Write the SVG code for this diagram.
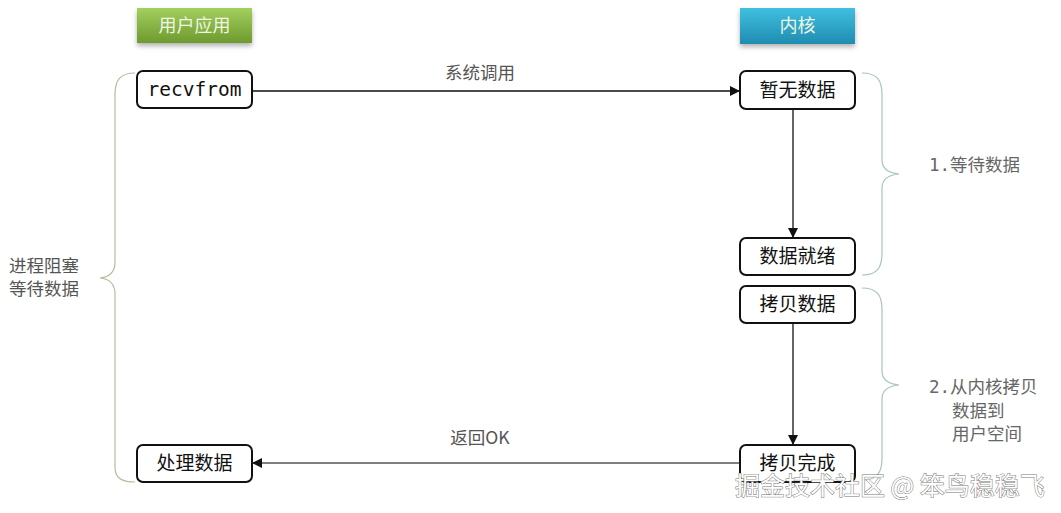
<svg xmlns="http://www.w3.org/2000/svg" width="1061" height="513" viewBox="0 0 1061 513">
<style>
.node{fill:#fff;stroke:#111;stroke-width:2}
.nt{font-family:"Noto Sans CJK SC","Noto Sans",sans-serif;font-size:19px;fill:#111;text-anchor:middle}
.mono{font-family:"DejaVu Sans Mono","Liberation Mono",monospace;font-size:19.5px;fill:#111;text-anchor:middle}
.lbl{font-family:"Noto Sans CJK SC","Noto Sans",sans-serif;font-size:17.5px;fill:#555}
.lblm{font-family:"DejaVu Sans Mono","Noto Sans CJK SC",monospace;font-size:17.5px;fill:#666}
.hdr{font-family:"Noto Sans CJK SC","Noto Sans",sans-serif;font-size:18px;fill:#eef5e4;text-anchor:middle}
.conn{stroke:#111;stroke-width:1.3;fill:none}
.brace{fill:none;stroke-width:1.2}
</style>
<defs>
<linearGradient id="g" x1="0" y1="0" x2="0" y2="1"><stop offset="0" stop-color="#a2cf5e"/><stop offset="1" stop-color="#6e9a2f"/></linearGradient>
<linearGradient id="b" x1="0" y1="0" x2="0" y2="1"><stop offset="0" stop-color="#40c0e0"/><stop offset="1" stop-color="#1f8cb0"/></linearGradient>
<filter id="sh" x="-20%" y="-30%" width="140%" height="170%"><feDropShadow dx="0" dy="3" stdDeviation="2.5" flood-color="#000" flood-opacity="0.3"/></filter>
<marker id="ar" markerWidth="10" markerHeight="10" refX="9" refY="5" orient="auto" markerUnits="userSpaceOnUse"><path d="M0,0 L10,5 L0,10 z" fill="#111"/></marker>
</defs>
<rect width="1061" height="513" fill="#fff"/>
<g id="hdr-user"><rect x="137" y="8" width="115" height="35" fill="url(#g)" filter="url(#sh)"/><text class="hdr" x="194.5" y="32">用户应用</text></g>
<g id="hdr-kernel"><rect x="740" y="8" width="115" height="36" fill="url(#b)" filter="url(#sh)"/><text class="hdr" x="797.5" y="32" fill="#e6f6fb">内核</text></g>
<g id="connectors">
<line class="conn" x1="252" y1="91" x2="739" y2="91" marker-end="url(#ar)"/>
<text class="lbl" x="480" y="79" text-anchor="middle">系统调用</text>
<line class="conn" x1="793" y1="109" x2="793" y2="237" marker-end="url(#ar)"/>
<line class="conn" x1="793" y1="323" x2="793" y2="444" marker-end="url(#ar)"/>
<line x1="740" y1="463" x2="253" y2="463" stroke="#555" stroke-width="1.3" marker-end="url(#ar)"/>
<text class="lbl" x="480" y="444" text-anchor="middle">返回OK</text>
</g>
<g id="n-recvfrom"><rect class="node" x="137" y="71" width="115" height="37" rx="6"/><text class="mono" x="194.5" y="96">recvfrom</text></g>
<g id="n-nodata"><rect class="node" x="740" y="71" width="115" height="38" rx="6"/><text class="nt" x="797.5" y="97">暂无数据</text></g>
<g id="n-ready"><rect class="node" x="740" y="238" width="115" height="37" rx="6"/><text class="nt" x="797.5" y="263">数据就绪</text></g>
<g id="n-copy"><rect class="node" x="740" y="286" width="115" height="37" rx="6"/><text class="nt" x="797.5" y="311">拷贝数据</text></g>
<g id="n-done"><rect class="node" x="740" y="445" width="115" height="37" rx="6"/><text class="nt" x="797.5" y="470">拷贝完成</text></g>
<g id="n-process"><rect class="node" x="137" y="445" width="115" height="37" rx="6"/><text class="nt" x="194.5" y="470">处理数据</text></g>
<g id="brace-left">
<path class="brace" stroke="#b8bb9c" d="M135,73 C120,73 115,80 115,95 L115,262 C115,272 110,277 100,278 C110,279 115,284 115,294 L115,467 C115,477 120,482 135,482"/>
<text class="lbl" x="9" y="272">进程阻塞</text>
<text class="lbl" x="9" y="295">等待数据</text>
</g>
<g id="brace-1">
<path class="brace" stroke="#a9c3c3" d="M862,73 C877,73 882,80 882,95 L882,160 C882,169 888,173 899,174 C888,175 882,179 882,188 L882,253 C882,268 877,275 862,275"/>
<text class="lblm" x="929" y="171">1.等待数据</text>
</g>
<g id="brace-2">
<path class="brace" stroke="#a9c3c3" d="M862,288 C877,288 882,295 882,310 L882,371 C882,380 888,384 899,385 C888,386 882,390 882,399 L882,458 C882,473 877,480 862,480"/>
<text class="lblm" x="929" y="393">2.从内核拷贝</text>
<text class="lblm" x="952" y="417">数据到</text>
<text class="lblm" x="952" y="440">用户空间</text>
</g>
<text x="735" y="495" font-family="Noto Sans CJK SC,sans-serif" font-size="25" fill="#fff" stroke="#777" stroke-width="1" paint-order="stroke">掘金技术社区 @ 笨鸟稳稳飞</text>
</svg>
